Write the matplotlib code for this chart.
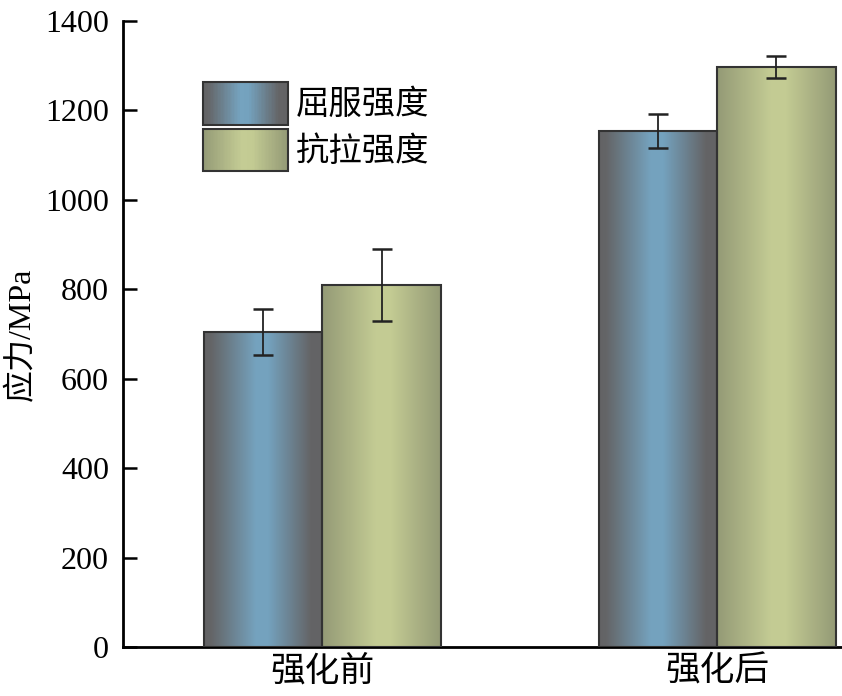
import numpy as np
import matplotlib
matplotlib.use("Agg")
import matplotlib.pyplot as plt
from matplotlib.colors import LinearSegmentedColormap
from matplotlib.patches import Rectangle
from matplotlib.legend_handler import HandlerBase

plt.rcParams['font.family'] = ['Liberation Serif', 'Noto Sans CJK SC']

groups = ['强化前', '强化后']
series = ['屈服强度', '抗拉强度']
yield_vals = [705, 1155]
yield_err = [51, 38]
tensile_vals = [810, 1297]
tensile_err = [80, 24]

cmaps = [
    LinearSegmentedColormap.from_list('blu', [(0, '#636365'), (0.06, '#646567'), (0.44, '#75a3bf'),
                                              (0.54, '#74a2be'), (0.9, '#646466'), (1, '#636365')]),
    LinearSegmentedColormap.from_list('olv', [(0, '#949a76'), (0.46, '#c4cc94'),
                                              (0.58, '#c3cb93'), (1, '#949a76')]),
]
grad = np.linspace(0, 1, 256).reshape(1, -1)


class GradHandler(HandlerBase):
    def __init__(self, cmap):
        super().__init__()
        self.cmap = cmap

    def create_artists(self, legend, orig_handle, xdescent, ydescent, width, height, fontsize, trans):
        arts = []
        n = 60
        for i in range(n):
            r = Rectangle((-xdescent + width * i / n, -ydescent), width / n + 0.3, height,
                          facecolor=self.cmap((i + 0.5) / n), edgecolor='none', transform=trans)
            arts.append(r)
        arts.append(Rectangle((-xdescent, -ydescent), width, height, facecolor='none',
                              edgecolor='#333333', lw=1.5, transform=trans))
        return arts


fig = plt.figure(figsize=(8.42, 6.96), dpi=100)
ax = fig.add_axes([0.146, 0.0704, 0.854, 0.8994])

x = np.arange(len(groups))
w = 0.3
handles = []
for k, (vals, errs) in enumerate([(yield_vals, yield_err), (tensile_vals, tensile_err)]):
    pos = x - w / 2 + k * w
    bars = ax.bar(pos, vals, w, facecolor='none', edgecolor='#333333', lw=1.5, zorder=3, label=series[k])
    for b in bars:
        ax.imshow(grad, cmap=cmaps[k], aspect='auto', zorder=2, interpolation='bilinear',
                  extent=(b.get_x(), b.get_x() + b.get_width(), 0, b.get_height()))
    ax.errorbar(pos, vals, yerr=errs, fmt='none', ecolor='#222222', elinewidth=1.3,
                capsize=7, capthick=1.8, zorder=4)
    handles.append(bars)

ax.set_xlim(-0.505, 1.316)
ax.set_ylim(0, 1400)
ax.set_yticks(range(0, 1401, 200))
ax.set_xticks(x)
ax.set_xticklabels(groups, fontsize=25)
ax.tick_params(axis='x', length=0, pad=6)
ax.tick_params(axis='y', direction='in', length=10, width=1.8, labelsize=23, pad=10)
ax.set_ylabel('应力/MPa', fontsize=23, labelpad=6)
for s in ['top', 'right']:
    ax.spines[s].set_visible(False)
for s in ['left', 'bottom']:
    ax.spines[s].set_linewidth(2)

ax.legend(handles, series, loc='upper left', bbox_to_anchor=(0.111, 0.903), frameon=False,
          fontsize=24, handlelength=2.55, handleheight=1.6, handletextpad=0.25, labelspacing=0.12,
          borderpad=0, borderaxespad=0,
          handler_map={handles[0]: GradHandler(cmaps[0]), handles[1]: GradHandler(cmaps[1])})

fig.savefig('out.png', dpi=100)
